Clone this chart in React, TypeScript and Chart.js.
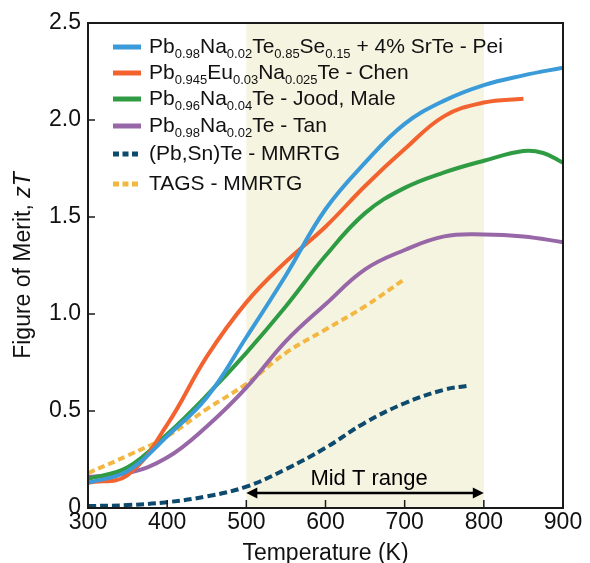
import React, { useEffect, useRef } from "react";
import { Chart, registerables } from "chart.js";

Chart.register(...registerables);

// ---- axis ticks ----
const xTickValues = [300, 400, 500, 600, 700, 800, 900];
const yTickValues = [0, 0.5, 1.0, 1.5, 2.0, 2.5];
const yTickLabels = ["0", "0.5", "1.0", "1.5", "2.0", "2.5"];

// ---- series (Temperature K, zT) ----
const tempsPei = [300, 350, 400, 450, 500, 550, 600, 650, 700, 750, 800, 850, 900];
const zTPei = [0.13, 0.19, 0.37, 0.57, 0.88, 1.2, 1.54, 1.78, 1.98, 2.1, 2.18, 2.23, 2.27];

const tempsChen = [300, 350, 400, 450, 500, 550, 600, 650, 700, 750, 800, 850];
const zTChen = [0.13, 0.17, 0.43, 0.78, 1.06, 1.27, 1.45, 1.66, 1.85, 2.02, 2.09, 2.11];

const tempsJood = [300, 350, 400, 450, 500, 550, 600, 650, 700, 750, 800, 850, 875, 900];
const zTJood = [0.15, 0.21, 0.38, 0.58, 0.8, 1.04, 1.3, 1.52, 1.65, 1.73, 1.79, 1.84, 1.83, 1.78];

const tempsTan = [300, 350, 400, 450, 500, 550, 600, 650, 700, 750, 800, 850, 900];
const zTTan = [0.16, 0.18, 0.26, 0.42, 0.62, 0.86, 1.05, 1.23, 1.33, 1.4, 1.41, 1.4, 1.37];

const tempsPbSnTe = [300, 350, 400, 450, 500, 550, 600, 650, 700, 750, 780];
const zTPbSnTe = [0.01, 0.015, 0.03, 0.06, 0.11, 0.2, 0.31, 0.44, 0.54, 0.61, 0.63];

const tempsTAGS = [300, 350, 400, 450, 500, 550, 600, 650, 700];
const zTTAGS = [0.18, 0.27, 0.37, 0.51, 0.64, 0.8, 0.92, 1.04, 1.18];

// ---- legend labels (text, isSubscript) ----
const labelPei: [string, boolean][] = [
  ["Pb", false], ["0.98", true], ["Na", false], ["0.02", true], ["Te", false], ["0.85", true],
  ["Se", false], ["0.15", true], [" + 4% SrTe - Pei", false],
];
const labelChen: [string, boolean][] = [
  ["Pb", false], ["0.945", true], ["Eu", false], ["0.03", true], ["Na", false], ["0.025", true],
  ["Te - Chen", false],
];
const labelJood: [string, boolean][] = [
  ["Pb", false], ["0.96", true], ["Na", false], ["0.04", true], ["Te - Jood, Male", false],
];
const labelTan: [string, boolean][] = [
  ["Pb", false], ["0.98", true], ["Na", false], ["0.02", true], ["Te - Tan", false],
];
const labelPbSnTe: [string, boolean][] = [["(Pb,Sn)Te - MMRTG", false]];
const labelTAGS: [string, boolean][] = [["TAGS - MMRTG", false]];

// ---- annotations ----
const midRange = [500, 800];
const midLabel = "Mid T range";
const xTitle = "Temperature (K)";
const yTitleMain = "Figure of Merit, ";
const yTitleItalic = "zT";

const FONT = "'Liberation Sans', Arial, Helvetica, sans-serif";

const COLORS = {
  pei: "#3b9bd9",
  chen: "#f2632f",
  jood: "#2f9c44",
  tan: "#9767a8",
  pbsnte: "#0e4a6e",
  tags: "#f3b843",
  shade: "#f5f4e0",
};

const series = [
  { temps: tempsPei, vals: zTPei, color: COLORS.pei, dash: [] as number[], label: labelPei },
  { temps: tempsChen, vals: zTChen, color: COLORS.chen, dash: [] as number[], label: labelChen },
  { temps: tempsJood, vals: zTJood, color: COLORS.jood, dash: [] as number[], label: labelJood },
  { temps: tempsTan, vals: zTTan, color: COLORS.tan, dash: [] as number[], label: labelTan },
  { temps: tempsPbSnTe, vals: zTPbSnTe, color: COLORS.pbsnte, dash: [8, 4], label: labelPbSnTe },
  { temps: tempsTAGS, vals: zTTAGS, color: COLORS.tags, dash: [7, 4], label: labelTAGS },
];

const decorPlugin = {
  id: "decor",
  beforeDatasetsDraw(chart: any) {
    const { ctx, chartArea, scales } = chart;
    const x0 = scales.x.getPixelForValue(midRange[0]);
    const x1 = scales.x.getPixelForValue(midRange[1]);
    ctx.save();
    ctx.fillStyle = COLORS.shade;
    ctx.fillRect(x0, chartArea.top, x1 - x0, chartArea.bottom - chartArea.top);
    ctx.restore();
  },
  afterDatasetsDraw(chart: any) {
    const { ctx, chartArea, scales } = chart;
    const xs = scales.x;
    const ys = scales.y;
    ctx.save();
    // arrow
    const ax0 = xs.getPixelForValue(midRange[0]);
    const ax1 = xs.getPixelForValue(midRange[1]);
    const ay = ys.getPixelForValue(0.077);
    ctx.strokeStyle = "#000";
    ctx.fillStyle = "#000";
    ctx.lineWidth = 2.5;
    ctx.beginPath();
    ctx.moveTo(ax0 + 6, ay);
    ctx.lineTo(ax1 - 6, ay);
    ctx.stroke();
    ctx.beginPath();
    ctx.moveTo(ax0, ay);
    ctx.lineTo(ax0 + 11, ay - 5.5);
    ctx.lineTo(ax0 + 11, ay + 5.5);
    ctx.closePath();
    ctx.fill();
    ctx.beginPath();
    ctx.moveTo(ax1, ay);
    ctx.lineTo(ax1 - 11, ay - 5.5);
    ctx.lineTo(ax1 - 11, ay + 5.5);
    ctx.closePath();
    ctx.fill();
    // label
    ctx.font = `22px ${FONT}`;
    ctx.textAlign = "center";
    ctx.textBaseline = "alphabetic";
    ctx.fillText(midLabel, xs.getPixelForValue((midRange[0] + midRange[1]) / 2) + 4, ys.getPixelForValue(0.118));

    // frame
    ctx.strokeStyle = "#1a1a1a";
    ctx.lineWidth = 2;
    ctx.strokeRect(chartArea.left, chartArea.top, chartArea.right - chartArea.left, chartArea.bottom - chartArea.top);
    // inward ticks
    ctx.lineWidth = 1.5;
    ctx.beginPath();
    xTickValues.forEach((v) => {
      const px = xs.getPixelForValue(v);
      ctx.moveTo(px, chartArea.bottom);
      ctx.lineTo(px, chartArea.bottom - 8);
    });
    yTickValues.forEach((v) => {
      const py = ys.getPixelForValue(v);
      ctx.moveTo(chartArea.left, py);
      ctx.lineTo(chartArea.left + 7, py);
    });
    ctx.stroke();

    // legend
    const rowY = [47, 73, 99, 126, 154, 184];
    const lx0 = 113, lx1 = 141, tx = 149;
    series.forEach((s, i) => {
      const y = rowY[i];
      ctx.strokeStyle = s.color;
      ctx.lineWidth = 5;
      ctx.setLineDash(s.dash.length ? [6, 3.5] : []);
      ctx.beginPath();
      ctx.moveTo(lx0, y);
      ctx.lineTo(lx1, y);
      ctx.stroke();
      ctx.setLineDash([]);
      let x = tx;
      ctx.fillStyle = "#111";
      ctx.textAlign = "left";
      ctx.textBaseline = "alphabetic";
      s.label.forEach(([t, sub]) => {
        ctx.font = sub ? `13px ${FONT}` : `21px ${FONT}`;
        ctx.fillText(t, x, y + 6 + (sub ? 5 : 0));
        x += ctx.measureText(t).width;
      });
    });

    // x title
    ctx.fillStyle = "#111";
    ctx.font = `23px ${FONT}`;
    ctx.textAlign = "center";
    ctx.textBaseline = "alphabetic";
    ctx.fillText(xTitle, (chartArea.left + chartArea.right) / 2, 560);

    // y title
    ctx.save();
    ctx.translate(30, (chartArea.top + chartArea.bottom) / 2);
    ctx.rotate(-Math.PI / 2);
    ctx.font = `23px ${FONT}`;
    const w1 = ctx.measureText(yTitleMain).width;
    ctx.font = `italic 23px ${FONT}`;
    const w2 = ctx.measureText(yTitleItalic).width;
    const sx = -(w1 + w2) / 2;
    ctx.textAlign = "left";
    ctx.font = `23px ${FONT}`;
    ctx.fillText(yTitleMain, sx, 0);
    ctx.font = `italic 23px ${FONT}`;
    ctx.fillText(yTitleItalic, sx + w1, 0);
    ctx.restore();

    ctx.restore();
  },
};

export default function App() {
  const ref = useRef<HTMLCanvasElement | null>(null);
  useEffect(() => {
    if (!ref.current) return;
    const datasets = series.map((s) => ({
      label: s.label.map((p) => p[0]).join(""),
      data: s.temps.map((t, i) => ({ x: t, y: s.vals[i] })),
      borderColor: s.color,
      backgroundColor: s.color,
      borderWidth: 4,
      borderDash: s.dash,
      pointRadius: 0,
      fill: false,
      tension: 0.4,
      borderCapStyle: "butt" as const,
    }));
    const chart = new Chart(ref.current, {
      type: "line",
      data: { datasets },
      options: {
        animation: false,
        responsive: true,
        maintainAspectRatio: false,
        layout: { padding: { left: 0, top: 23, right: 27, bottom: 0 } },
        plugins: { legend: { display: false }, tooltip: { enabled: false } },
        scales: {
          x: {
            type: "linear",
            min: 300,
            max: 900,
            afterBuildTicks: (s: any) => {
              s.ticks = xTickValues.map((v) => ({ value: v }));
            },
            afterFit: (s: any) => {
              s.height = 55;
            },
            ticks: {
              color: "#111",
              font: { family: FONT, size: 23 },
              padding: 1,
              maxRotation: 0,
              callback: (v: any) => String(v),
            },
            grid: { display: false, drawTicks: false },
            border: { display: false },
          },
          y: {
            type: "linear",
            min: 0,
            max: 2.5,
            afterBuildTicks: (s: any) => {
              s.ticks = yTickValues.map((v) => ({ value: v }));
            },
            afterFit: (s: any) => {
              s.width = 88;
            },
            ticks: {
              color: "#111",
              font: { family: FONT, size: 23 },
              padding: 7,
              callback: (v: any) => {
                const i = yTickValues.indexOf(Number(v));
                return i >= 0 ? yTickLabels[i] : "";
              },
            },
            grid: { display: false, drawTicks: false },
            border: { display: false },
          },
        },
      },
      plugins: [decorPlugin],
    });
    return () => chart.destroy();
  }, []);
  return (
    <div style={{ position: "fixed", left: 0, top: 0, width: 590, height: 563, background: "#fff" }}>
      <canvas ref={ref} />
    </div>
  );
}
